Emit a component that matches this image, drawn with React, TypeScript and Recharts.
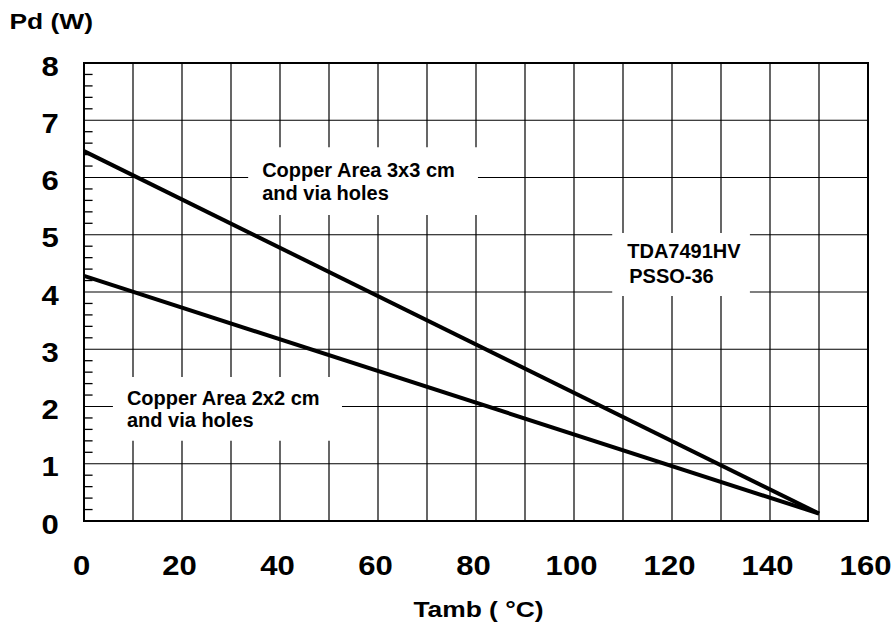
import React from "react";
import {
  LineChart,
  Line,
  XAxis,
  YAxis,
  CartesianGrid,
  ReferenceArea,
  ReferenceLine
} from "recharts";

// values
const tamb = [0, 150];
const copper3x3 = [6.46, 0.13];
const copper2x2 = [4.28, 0.13];

const xTicks = [0, 10, 20, 30, 40, 50, 60, 70, 80, 90, 100, 110, 120, 130, 140, 150, 160];
const xLabels = [0, 20, 40, 60, 80, 100, 120, 140, 160];
const yTicks = [0, 1, 2, 3, 4, 5, 6, 7, 8];
const yMinor = yTicks.slice(0, -1).flatMap((v) => [0.2, 0.4, 0.6, 0.8].map((f) => v + f));

const notes = [
  {
    lines: ["Copper Area 3x3 cm", "and via holes"],
    box: { x1: 33.5, x2: 80.4, y1: 5.345, y2: 6.53 },
    dx: [14, 14],
    dy: [30, 53]
  },
  {
    lines: ["TDA7491HV", "PSSO-36"],
    box: { x1: 107.8, x2: 135.9, y1: 3.93, y2: 5.03 },
    dx: [15, 17],
    dy: [25, 50]
  },
  {
    lines: ["Copper Area 2x2 cm", "and via holes"],
    box: { x1: 5.9, x2: 52.65, y1: 1.4, y2: 2.515 },
    dx: [14, 14],
    dy: [28, 50]
  }
];

const data = tamb.map((t, i) => ({ tamb: t, a3: copper3x3[i], a2: copper2x2[i] }));

const FONT = "'Liberation Sans', Arial, Helvetica, sans-serif";

function XTick(props: any) {
  const { x, y, payload } = props;
  if (!xLabels.includes(payload.value)) return null;
  return (
    <g transform={`translate(${x - 2.5},${y + 54}) scale(1.15,1)`}>
      <text x={0} y={0} textAnchor="middle" fontFamily={FONT} fontWeight="bold" fontSize={27} fill="#000">
        {payload.value}
      </text>
    </g>
  );
}

function YTick(props: any) {
  const { x, y, payload } = props;
  return (
    <g transform={`translate(${x - 34},${y + 12.5}) scale(1.15,1)`}>
      <text x={0} y={0} textAnchor="middle" fontFamily={FONT} fontWeight="bold" fontSize={27} fill="#000">
        {payload.value}
      </text>
    </g>
  );
}

function NoteText({ viewBox, lines, dx, dy }: any) {
  if (!viewBox) return null;
  return (
    <g>
      {lines.map((s: string, i: number) => (
        <text
          key={i}
          x={viewBox.x + dx[i]}
          y={viewBox.y + dy[i]}
          fontFamily={FONT}
          fontWeight="bold"
          fontSize={20}
          fill="#000"
        >
          {s}
        </text>
      ))}
    </g>
  );
}

export default function App() {
  return (
    <div style={{ position: "absolute", left: 0, top: 0, background: "#fff" }}>
      <LineChart width={894} height={627} data={data} margin={{ top: 63, right: 26, bottom: 46, left: 24 }}>
        <CartesianGrid stroke="#000" strokeWidth={1.2} />
        <XAxis
          dataKey="tamb"
          type="number"
          domain={[0, 160]}
          ticks={xTicks}
          interval={0}
          height={60}
          tickSize={0}
          tickMargin={0}
          tickLine={false}
          axisLine={false}
          tick={<XTick />}
          label={(p: any) => (
            <g transform={`translate(${p.viewBox.x + p.viewBox.width / 2 + 2.5},${p.viewBox.y + 96}) scale(1.2,1)`}>
              <text x={0} y={0} textAnchor="middle" fontFamily={FONT} fontWeight="bold" fontSize={22} fill="#000">
                Tamb ( °C)
              </text>
            </g>
          )}
        />
        <YAxis
          type="number"
          domain={[0, 8]}
          ticks={yTicks}
          interval={0}
          width={60}
          tickSize={0}
          tickMargin={0}
          tickLine={false}
          axisLine={false}
          tick={<YTick />}
          label={(p: any) => (
            <g transform={`translate(${p.viewBox.x - 14.5},${p.viewBox.y - 34}) scale(1.2,1)`}>
              <text x={0} y={0} fontFamily={FONT} fontWeight="bold" fontSize={22} fill="#000">
                Pd (W)
              </text>
            </g>
          )}
        />
        {yMinor.map((v) => (
          <ReferenceLine
            key={v}
            segment={[
              { x: 0, y: v },
              { x: 1.75, y: v }
            ]}
            stroke="#000"
            strokeWidth={1.3}
          />
        ))}
        {notes.map((n, i) => (
          <ReferenceArea
            key={i}
            x1={n.box.x1}
            x2={n.box.x2}
            y1={n.box.y1}
            y2={n.box.y2}
            fill="#fff"
            fillOpacity={1}
            stroke="none"
            label={(p: any) => <NoteText viewBox={p.viewBox} lines={n.lines} dx={n.dx} dy={n.dy} />}
          />
        ))}
        <ReferenceArea x1={0} x2={160} y1={0} y2={8} fill="none" stroke="#000" strokeWidth={2} />
        <Line dataKey="a3" type="linear" stroke="#000" strokeWidth={4} dot={false} isAnimationActive={false} />
        <Line dataKey="a2" type="linear" stroke="#000" strokeWidth={4} dot={false} isAnimationActive={false} />
      </LineChart>
    </div>
  );
}
